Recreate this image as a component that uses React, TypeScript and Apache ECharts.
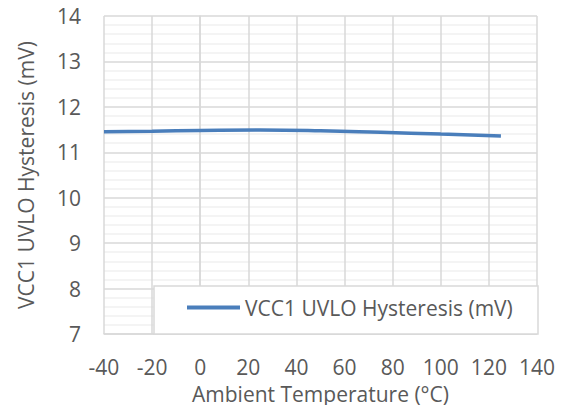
import React, { useEffect, useRef } from "react";
import * as echarts from "echarts";

const temperatures = [-40, -20, 0, 25, 50, 75, 100, 125];
const hysteresis = [11.45, 11.465, 11.48, 11.49, 11.475, 11.44, 11.4, 11.36];
const seriesName = "VCC1 UVLO Hysteresis (mV)";
const xTitle = "Ambient Temperature (°C)";
const yTitle = "VCC1 UVLO Hysteresis (mV)";

const FONT = "Open Sans";
const TXT = "#595959";
const GRID = "#d9d9d9";

export default function App() {
  const ref = useRef<HTMLDivElement>(null);
  useEffect(() => {
    const chart = echarts.init(ref.current!, null, { renderer: "svg" });
    chart.setOption({
      animation: false,
      textStyle: { fontFamily: FONT },
      grid: { left: 104, right: 33, top: 16, bottom: 79, containLabel: false },
      xAxis: {
        type: "value",
        min: -40,
        max: 140,
        interval: 20,
        name: xTitle,
        nameLocation: "middle",
        nameGap: 49,
        nameTextStyle: { color: TXT, fontSize: 21, fontFamily: FONT },
        axisLine: { show: true, lineStyle: { color: GRID, width: 1.5 } },
        axisTick: { show: false },
        axisLabel: { color: TXT, fontSize: 21, fontFamily: FONT, margin: 22 },
        splitLine: { show: true, lineStyle: { color: GRID, width: 1.5 } },
      },
      yAxis: {
        type: "value",
        min: 7,
        max: 14,
        interval: 1,
        name: yTitle,
        nameLocation: "middle",
        nameGap: 68,
        nameTextStyle: { color: TXT, fontSize: 21, fontFamily: FONT },
        axisLine: { show: true, lineStyle: { color: GRID, width: 1.5 } },
        axisTick: { show: false },
        axisLabel: { color: TXT, fontSize: 21, fontFamily: FONT, margin: 23 },
        splitLine: { show: true, lineStyle: { color: GRID, width: 1.5 } },
        minorTick: { show: false, splitNumber: 5 },
        minorSplitLine: { show: true, lineStyle: { color: "#f0f0f0", width: 1.5 } },
      },
      graphic: [
        {
          type: "rect",
          z: 150,
          shape: { x: 154, y: 286, width: 384, height: 48 },
          style: { fill: "#ffffff", stroke: GRID, lineWidth: 1.5 },
        },
      ],
      legend: {
        z: 200,
        left: 187,
        top: 297,
        padding: 0,
        icon: "rect",
        itemWidth: 53,
        itemHeight: 4,
        itemGap: 0,
        textStyle: { color: TXT, fontSize: 21, fontFamily: FONT, padding: [0, 0, 0, 0] },
        data: [seriesName],
      },
      series: [
        {
          name: seriesName,
          type: "line",
          smooth: true,
          showSymbol: false,
          symbol: "none",
          data: temperatures.map((t, i) => [t, hysteresis[i]]),
          lineStyle: { color: "#4a7ebb", width: 3.5 },
          itemStyle: { color: "#4a7ebb" },
        },
      ],
    });
    return () => chart.dispose();
  }, []);
  return <div ref={ref} style={{ width: 570, height: 413, margin: -8 }} />;
}
